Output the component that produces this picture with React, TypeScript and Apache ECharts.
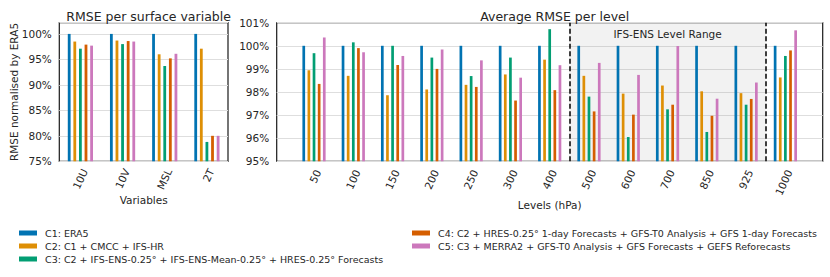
import React, { useEffect, useRef } from 'react';
import * as echarts from 'echarts';

// ---------- data ----------
const SERIES_NAMES = [
  'C1: ERA5',
  'C2: C1 + CMCC + IFS-HR',
  'C3: C2 + IFS-ENS-0.25° + IFS-ENS-Mean-0.25° + HRES-0.25° Forecasts',
  'C4: C2 + HRES-0.25° 1-day Forecasts + GFS-T0 Analysis + GFS 1-day Forecasts',
  'C5: C3 + MERRA2 + GFS-T0 Analysis + GFS Forecasts + GEFS Reforecasts',
];
const COLORS = ['#0173b2', '#de8f05', '#029e73', '#d55e00', '#cc78bc'];

const SURFACE_VARS = ['10U', '10V', 'MSL', '2T'];
const SURF_C1 = [100, 100, 100, 100];
const SURF_C2 = [98.5, 98.7, 96.0, 97.1];
const SURF_C3 = [97.1, 98.0, 93.7, 78.8];
const SURF_C4 = [97.9, 98.6, 95.2, 80.0];
const SURF_C5 = [97.7, 98.5, 96.1, 80.0];

const LEVELS = ['50', '100', '150', '200', '250', '300', '400', '500', '600', '700', '850', '925', '1000'];
const LEV_C1 = [100, 100, 100, 100, 100, 100, 100, 100, 100, 100, 100, 100, 100];
const LEV_C2 = [98.94, 98.7, 97.86, 98.11, 98.31, 98.76, 99.4, 98.7, 97.93, 98.28, 98.03, 97.95, 98.63];
const LEV_C3 = [99.68, 100.15, 100.0, 99.49, 98.69, 99.49, 100.72, 97.8, 96.05, 97.25, 96.27, 97.45, 99.56];
const LEV_C4 = [98.35, 99.9, 99.17, 99.0, 98.22, 97.63, 98.08, 97.16, 97.02, 97.45, 96.97, 97.7, 99.8];
const LEV_C5 = [100.36, 99.72, 99.56, 99.84, 99.37, 98.62, 99.16, 99.26, 98.74, 99.99, 97.71, 98.41, 100.67];

const ENS_RANGE = ['500', '925'];
const ENS_LABEL = 'IFS-ENS Level Range';

const SURF_TICKS = [75, 80, 85, 90, 95, 100];
const LEVEL_TICKS = [95, 96, 97, 98, 99, 100, 101];

// ---------- styling ----------
const FONT = 'DejaVu Sans';
const TEXT = '#262626';
const GRIDLINE = '#dedede';

export default function App() {
  const ref = useRef<HTMLDivElement>(null);

  useEffect(() => {
    const chart = echarts.init(ref.current!, null, { renderer: 'svg' });

    const surf = [SURF_C1, SURF_C2, SURF_C3, SURF_C4, SURF_C5];
    const lev = [LEV_C1, LEV_C2, LEV_C3, LEV_C4, LEV_C5];

    const ensStart = LEVELS.indexOf(ENS_RANGE[0]) - 0.5;
    const ensEnd = LEVELS.indexOf(ENS_RANGE[1]) + 0.5;
    const MIDDLE = Math.floor(lev.length / 2); // centre bar of each group: marker offset is zero

    const leftSeries = surf.map((arr, k) => ({
      type: 'bar',
      name: SERIES_NAMES[k],
      xAxisIndex: 0,
      yAxisIndex: 0,
      data: arr.map((v, i) => [i, v]),
      barWidth: 2.8,
      barGap: '100%',
      clip: true,
      itemStyle: { color: COLORS[k] },
      emphasis: { disabled: true },
    }));

    const rightSeries = lev.map((arr, k) => ({
      type: 'bar',
      name: SERIES_NAMES[k],
      xAxisIndex: 1,
      yAxisIndex: 1,
      data: arr.map((v, i) => [i, v]),
      barWidth: 2.7,
      barGap: '90%',
      clip: true,
      itemStyle: { color: COLORS[k] },
      emphasis: { disabled: true },
      ...(k === MIDDLE
        ? {
            markArea: {
              silent: true,
              itemStyle: { color: 'rgba(128,128,128,0.1)' },
              label: {
                show: true,
                position: 'insideTop',
                distance: 6,
                color: TEXT,
                fontSize: 10.5,
                fontFamily: FONT,
              },
              data: [[{ xAxis: ensStart, name: ENS_LABEL }, { xAxis: ensEnd }]],
            },
            markLine: {
              silent: true,
              symbol: ['none', 'none'],
              label: { show: false },
              lineStyle: { color: '#000', width: 1.5, type: [5, 2.5] },
              data: [{ xAxis: ensStart }, { xAxis: ensEnd }],
            },
          }
        : {}),
    }));

    const axisText = { color: TEXT, fontSize: 10.5, fontFamily: FONT };

    const legendBase = {
      orient: 'vertical',
      top: 222,
      itemWidth: 18,
      itemHeight: 5,
      itemGap: 1,
      icon: 'rect',
      selectedMode: false,
      textStyle: { color: TEXT, fontSize: 9.5, fontFamily: FONT, lineHeight: 12, padding: [0, 0, 0, 3] },
    };

    const option: any = {
      animation: false,
      textStyle: { fontFamily: FONT },
      title: [
        {
          text: 'RMSE per surface variable',
          left: 143.6,
          top: 5,
          textAlign: 'center',
          textStyle: { fontSize: 12.5, fontWeight: 'normal', color: TEXT, fontFamily: FONT },
        },
        {
          text: 'Average RMSE per level',
          left: 549.7,
          top: 5,
          textAlign: 'center',
          textStyle: { fontSize: 12.5, fontWeight: 'normal', color: TEXT, fontFamily: FONT },
        },
      ],
      legend: [
        { ...legendBase, left: 14, data: SERIES_NAMES.slice(0, 3) },
        { ...legendBase, left: 407, data: SERIES_NAMES.slice(3) },
      ],
      grid: [
        {
          left: 59.3,
          top: 22.7,
          width: 168.7,
          height: 138.6,
          show: true,
          borderColor: '#1a1a1a',
          borderWidth: 1.2,
          backgroundColor: 'transparent',
          containLabel: false,
          outerBoundsMode: 'none',
        },
        {
          left: 276.7,
          top: 22.7,
          width: 546,
          height: 138.6,
          show: true,
          borderColor: '#1a1a1a',
          borderWidth: 1.2,
          backgroundColor: 'transparent',
          containLabel: false,
          outerBoundsMode: 'none',
        },
      ],
      xAxis: [
        {
          type: 'value',
          gridIndex: 0,
          min: -0.5,
          max: SURFACE_VARS.length - 0.5,
          splitLine: { show: false },
          axisLine: { show: false },
          axisTick: { show: false },
          axisLabel: {
            ...axisText,
            rotate: 65,
            margin: 8,
            customValues: SURFACE_VARS.map((_, i) => i + 0.1),
            formatter: (v: number) => SURFACE_VARS[Math.round(v)] ?? '',
          },
          name: 'Variables',
          nameLocation: 'middle',
          nameGap: 33,
          nameMoveOverlap: false,
          nameTextStyle: { color: TEXT, fontSize: 10.5, fontFamily: FONT },
        },
        {
          type: 'value',
          gridIndex: 1,
          min: -0.95,
          max: LEVELS.length - 1 + 0.95,
          splitLine: { show: false },
          axisLine: { show: false },
          axisTick: { show: false },
          axisLabel: {
            ...axisText,
            rotate: 65,
            margin: 9,
            customValues: LEVELS.map((_, i) => i + 0.1),
            formatter: (v: number) => LEVELS[Math.round(v)] ?? '',
          },
          name: 'Levels (hPa)',
          nameLocation: 'middle',
          nameGap: 38,
          nameMoveOverlap: false,
          nameTextStyle: { color: TEXT, fontSize: 10.5, fontFamily: FONT },
        },
      ],
      yAxis: [
        {
          type: 'value',
          gridIndex: 0,
          min: SURF_TICKS[0],
          max: 102.2,
          interval: 5,
          axisLine: { show: false },
          axisTick: { show: false },
          splitLine: { show: true, lineStyle: { color: GRIDLINE, width: 1 } },
          axisLabel: {
            ...axisText,
            margin: 7.5,
            showMaxLabel: false,
            formatter: (v: number) => (SURF_TICKS.includes(v) ? `${v}%` : ''),
          },
          name: 'RMSE normalised by ERA5',
          nameLocation: 'middle',
          nameGap: 40,
          nameMoveOverlap: false,
          nameTextStyle: { color: TEXT, fontSize: 10.5, fontFamily: FONT },
        },
        {
          type: 'value',
          gridIndex: 1,
          min: LEVEL_TICKS[0],
          max: LEVEL_TICKS[LEVEL_TICKS.length - 1],
          interval: 1,
          axisLine: { show: false },
          axisTick: { show: false },
          splitLine: { show: true, lineStyle: { color: GRIDLINE, width: 1 } },
          axisLabel: {
            ...axisText,
            margin: 7.5,
            formatter: (v: number) => `${v}%`,
          },
        },
      ],
      series: [...leftSeries, ...rightSeries],
    };

    chart.setOption(option);
    return () => chart.dispose();
  }, []);

  return (
    <div
      ref={ref}
      style={{ position: 'fixed', left: 0, top: 0, width: 830, height: 277, background: '#fff' }}
    />
  );
}
